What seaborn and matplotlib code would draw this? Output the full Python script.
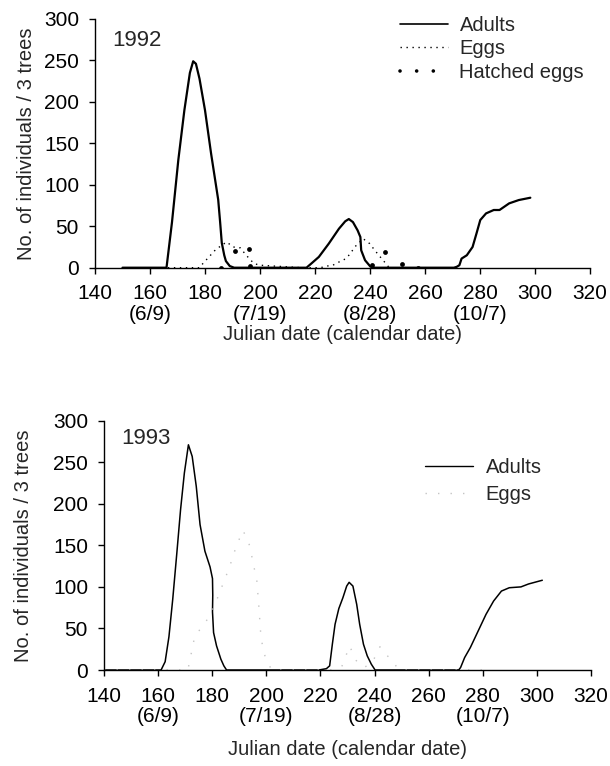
import matplotlib
matplotlib.use("Agg")
import matplotlib.pyplot as plt
import seaborn as sns
from matplotlib.lines import Line2D

# ---------------- data ----------------
# 1992 adults
a92_day = [150, 166, 168, 170.3, 172.5, 174.5, 175.7, 176.7, 178, 180, 182.2, 183.5, 184.8,
           185.5, 186.1, 187, 187.6, 189, 190.6, 216.9, 219, 221.4, 225, 228.7, 231, 232.3,
           233.8, 235.5, 236.5, 236.8, 238.2, 240.1, 241, 270.5, 271.5, 272.5, 273.3, 275.2,
           277.3, 278.7, 280.1, 282.2, 285, 287.1, 290.6, 294.1, 298.3]
a92_val = [0, 0, 55, 130, 190, 235, 249, 246, 228, 190, 138, 110, 82,
           55, 30, 15, 8, 2, 0, 0, 6, 13, 29, 47, 56, 58.7,
           55, 45, 37, 21, 9, 1.5, 0, 0, 1, 3, 11, 15,
           25, 41, 57.5, 65.5, 69.6, 69.6, 77.6, 81.6, 84.4]
# 1992 eggs
e92_day = [160, 178, 179.1, 181.3, 183.5, 186, 187.9, 190.2, 192.8, 195, 197.8, 200, 205, 210,
           215, 222, 224.4, 226.5, 228.8, 231, 232.9, 234.3, 236, 237.5, 239.9, 241.5, 243.2,
           245, 247, 260]
e92_val = [0, 0, 4.5, 12.5, 20.5, 27, 31, 25, 24, 15, 5, 3, 2, 1,
           0, 0, 2, 3, 7, 10.5, 17, 24.5, 30, 35, 29, 22, 15,
           8, 0, 0]
# 1992 hatched eggs
h92_day = [185.8, 191, 196, 196.4, 240.7, 245.3, 251.6, 257.6]
h92_val = [0, 20, 23, 2, 3.6, 19, 4.5, 0]

# 1993 adults
a93_day = [140, 161.1, 162.6, 164, 165.4, 166.9, 168.3, 169.7, 171.2, 172.6, 174.1, 175.5,
           177.3, 179.2, 180.1, 180.2, 180.1, 180.5, 181.6, 183.2, 184.3, 185.3,
           219.4, 222.2, 223.4, 224.4, 225.4, 226.8, 228.3, 229.7, 230.6, 232, 233.4, 234.5,
           235.9, 237.3, 238.8, 240.2,
           271.1, 271.8, 273.3, 275.4, 278.3, 281.2, 284, 286.9, 289.8, 294.1, 296.9, 302]
a93_val = [0, 0, 10, 40, 85, 140, 193, 237, 271, 257, 221, 175,
           143, 124, 110, 90, 70, 45, 29, 13, 5, 0,
           0, 1.6, 5, 31, 55, 74, 87, 101, 105.5, 101, 79, 55,
           31, 17, 7, 0,
           0, 3, 15, 27, 47, 67, 83, 95, 99, 100, 103.5, 108]
# 1993 eggs
e93_day = [140, 171, 173.5, 178, 182, 186.4, 189, 191.4, 193.8, 196.5, 197.2, 198, 199, 200,
           202, 225, 228, 230.8, 233, 236, 239, 242, 244.5, 246.8, 249, 280]
e93_val = [0, 0, 40, 60, 87, 124, 150, 168, 150, 107, 78, 40, 22, 12,
           0, 0, 5, 29, 12, 3, 8, 28, 18, 10, 0, 0]

xticks = [140, 160, 180, 200, 220, 240, 260, 280, 300, 320]
xticklabels = ["140", "160\n(6/9)", "180", "200\n(7/19)", "220", "240\n(8/28)",
               "260", "280\n(10/7)", "300", "320"]
yticks = [0, 50, 100, 150, 200, 250, 300]

# ---------------- style ----------------
sns.set_theme(style="ticks")
plt.rcParams['font.family'] = ['Liberation Sans', 'DejaVu Sans']
FS_TICK = 15
FS_LAB = 14.5
FS_LEG = 14.5
FS_YEAR = 16
plt.rcParams.update({
    'axes.linewidth': 1.0,
    'xtick.major.size': 4, 'ytick.major.size': 4.5,
    'xtick.major.width': 1.0, 'ytick.major.width': 1.0,
    'xtick.direction': 'out', 'ytick.direction': 'out',
    'axes.edgecolor': 'black',
    'xtick.color': 'black', 'ytick.color': 'black',
})

fig = plt.figure(figsize=(6.10, 7.66), dpi=100)
ax1 = fig.add_axes([95 / 610, 1 - 267.7 / 766, 495 / 610, 248.7 / 766])
ax2 = fig.add_axes([104 / 610, 1 - 670 / 766, 487 / 610, 249.3 / 766])

egg_style92 = dict(color='black', linewidth=1.0, linestyle=(0, (1, 3.3)))
egg_style93 = dict(color='#c4c4c4', linewidth=1.0, linestyle=(0, (1, 8)))

# top panel
sns.lineplot(x=a92_day, y=a92_val, ax=ax1, color='black', linewidth=1.6, sort=False,
             estimator=None, label='Adults')
sns.lineplot(x=e92_day, y=e92_val, ax=ax1, sort=False, estimator=None, label='Eggs',
             **egg_style92)
sns.scatterplot(x=h92_day, y=h92_val, ax=ax1, color='black', s=12, edgecolor='black',
                linewidth=0, zorder=5, legend=False)

# bottom panel
sns.lineplot(x=a93_day, y=a93_val, ax=ax2, color='black', linewidth=1.1, sort=False,
             estimator=None, label='Adults')
sns.lineplot(x=e93_day, y=e93_val, ax=ax2, sort=False, estimator=None, label='Eggs',
             **egg_style93)

for ax, year, ty, xpad, ypad in ((ax1, "1992", 274, 1, 6), (ax2, "1993", 278, 10, 14)):
    ax.set_xlim(140, 320)
    ax.set_ylim(0, 300)
    ax.set_xticks(xticks)
    ax.set_xticklabels(xticklabels, fontsize=FS_TICK, linespacing=1.1)
    ax.set_yticks(yticks)
    ax.set_yticklabels([str(v) for v in yticks], fontsize=FS_TICK)
    ax.set_xlabel("Julian date (calendar date)", fontsize=FS_LAB, labelpad=xpad)
    ax.set_ylabel("No. of individuals / 3 trees", fontsize=FS_LAB, labelpad=ypad)
    ax.tick_params(axis='x', pad=8)
    ax.tick_params(axis='y', pad=7)
    sns.despine(ax=ax)
    ax.text(146.3, ty, year, fontsize=FS_YEAR, ha='left', va='center')

# legends
h_adult = Line2D([], [], color='black', linewidth=1.2)
h_egg = Line2D([], [], **egg_style92)
h_hatch = Line2D([], [], color='black', linewidth=2.6, linestyle=(0, (0.01, 4.6)),
                 dash_capstyle='round')
ax1.legend([h_adult, h_egg, h_hatch], ["Adults", "Eggs", "Hatched eggs"],
           loc='upper left', bbox_to_anchor=(390 / 610, 1 - 6 / 766),
           bbox_transform=fig.transFigure, frameon=False, fontsize=FS_LEG,
           handlelength=2.4, handletextpad=0.55, labelspacing=0.22, borderpad=0)

h_adult2 = Line2D([], [], color='black', linewidth=1.0)
h_egg2 = Line2D([], [], **egg_style93)
ax2.legend([h_adult2, h_egg2], ["Adults", "Eggs"],
           loc='upper left', bbox_to_anchor=(415 / 610, 1 - 448 / 766),
           bbox_transform=fig.transFigure, frameon=False, fontsize=FS_LEG,
           handlelength=2.4, handletextpad=0.6, labelspacing=0.4, borderpad=0)

fig.savefig("out.png", dpi=100)
